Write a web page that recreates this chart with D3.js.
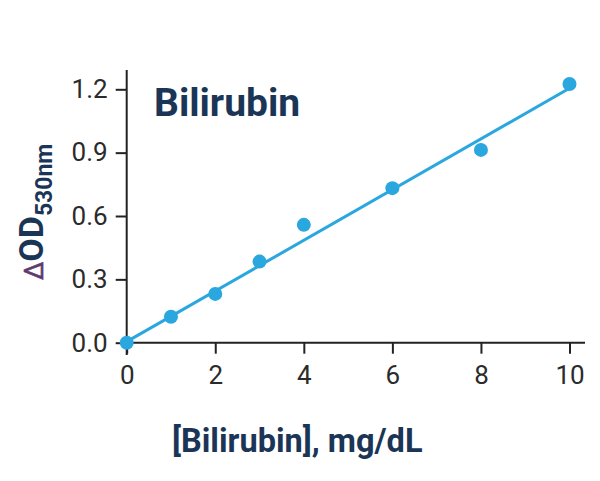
<!DOCTYPE html>
<html><head><meta charset="utf-8">
<script src="https://cdn.jsdelivr.net/npm/d3@7"></script>
<style>body{margin:0;background:#fff}svg{display:block}</style>
</head><body>
<svg id="c" width="600" height="481"></svg>
<script>
const concentrations = [0, 1, 2, 3, 4, 6, 8, 10];
const deltaOD = [0.0, 0.123, 0.231, 0.384, 0.558, 0.732, 0.913, 1.225];
const fitX = [0, 10];
const fitY = [0.005, 1.205];
const xTicks = [0, 2, 4, 6, 8, 10];
const yTicks = [0.0, 0.3, 0.6, 0.9, 1.2];

const svg = d3.select('#c');
const x = d3.scaleLinear().domain([0, 10]).range([126.7, 569.5]);
const y = d3.scaleLinear().domain([0, 1.2]).range([342.7, 89.3]);
const navy = '#1b3557', blue = '#2aa7df', ink = '#222';

// axes
const gx = svg.append('g').attr('transform', `translate(0,${y(0)})`)
  .call(d3.axisBottom(x).tickValues(xTicks).tickFormat(d3.format('d')).tickSize(11).tickPadding(12).tickSizeOuter(0));
const gy = svg.append('g').attr('transform', `translate(${x(0)},0)`)
  .call(d3.axisLeft(y).tickValues(yTicks).tickFormat(d3.format('.1f')).tickSize(11).tickPadding(8).tickSizeOuter(0));
[gx, gy].forEach(g => {
  g.select('.domain').remove();
  g.selectAll('line').attr('stroke', ink).attr('stroke-width', 2);
  g.selectAll('text').attr('fill', '#2b2b2b').style('font-family', 'Roboto').style('font-size', '26px');
});
svg.append('line').attr('x1', x(0)).attr('x2', 585).attr('y1', y(0)).attr('y2', y(0)).attr('stroke', ink).attr('stroke-width', 2);
svg.append('line').attr('x1', x(0)).attr('x2', x(0)).attr('y1', 70).attr('y2', 355).attr('stroke', ink).attr('stroke-width', 2);

// fit line
svg.append('path').datum(fitX.map((v, i) => [v, fitY[i]]))
  .attr('d', d3.line().x(d => x(d[0])).y(d => y(d[1])))
  .attr('stroke', blue).attr('stroke-width', 3).attr('fill', 'none');

// points
svg.selectAll('circle.pt').data(concentrations.map((v, i) => [v, deltaOD[i]])).join('circle')
  .attr('class', 'pt').attr('cx', d => x(d[0])).attr('cy', d => y(d[1])).attr('r', 7).attr('fill', blue);

// title
svg.append('text').attr('x', 154).attr('y', 116).text('Bilirubin')
  .attr('fill', navy).style('font-family', 'Roboto').style('font-weight', 'bold').style('font-size', '39px');

// x label
svg.append('text').attr('x', 172).attr('y', 452).text('[Bilirubin], mg/dL')
  .attr('fill', navy).style('font-family', 'Roboto').style('font-weight', 'bold').style('font-size', '32.5px');

// y label
const yl = svg.append('text').attr('transform', 'translate(43,280) rotate(-90)')
  .style('font-family', 'Roboto').style('font-weight', 'bold');
yl.append('tspan').text('\u0394').attr('fill', '#5e3a6e').style('font-size', '26px').style('font-weight', 'normal')
  .attr('stroke', '#5e3a6e').attr('stroke-width', 0.6);
yl.append('tspan').text('OD').attr('fill', navy).style('font-size', '34px');
yl.append('tspan').text('530nm').attr('fill', navy).style('font-size', '23px').attr('dy', 9);
</script>
</body></html>
